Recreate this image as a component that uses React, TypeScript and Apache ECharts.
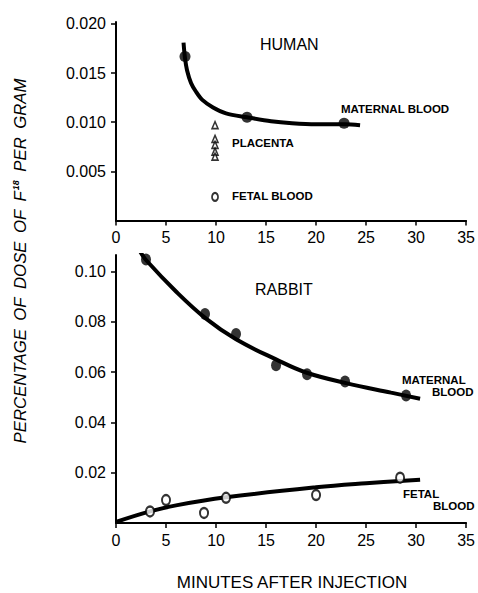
import React, { useEffect, useRef } from "react";
import * as echarts from "echarts";

// ---- Data ----
const xTicks = [0, 5, 10, 15, 20, 25, 30, 35];
const humanYTicks = [0.005, 0.01, 0.015, 0.02];
const rabbitYTicks = [0.02, 0.04, 0.06, 0.08, 0.1];

// Human
const humanMaternalPts: [number, number][] = [
  [6.9, 0.0167],
  [13.1, 0.0105],
  [22.8, 0.0099],
];
const humanMaternalCurve: [number, number][] = [
  [6.75, 0.0181],
  [6.9, 0.0165],
  [7.1, 0.0153],
  [7.5, 0.014],
  [8.0, 0.0131],
  [8.6, 0.0123],
  [9.7, 0.0115],
  [11.0, 0.0109],
  [13.1, 0.0105],
  [15.5, 0.0101],
  [17.6, 0.0099],
  [20.0, 0.0098],
  [22.9, 0.0098],
  [24.4, 0.0097],
];
const humanPlacentaPts: [number, number][] = [
  [9.9, 0.0097],
  [9.9, 0.0083],
  [9.9, 0.0077],
  [9.9, 0.007],
  [9.9, 0.0065],
];
const humanFetalPts: [number, number][] = [[9.9, 0.0024]];

// Rabbit
const rabbitMaternalPts: [number, number][] = [
  [3.0, 0.1047],
  [8.9, 0.0831],
  [12.0, 0.0751],
  [16.0, 0.0627],
  [19.1, 0.0591],
  [22.9, 0.0562],
  [29.0, 0.0507],
];
const rabbitMaternalCurve: [number, number][] = [
  [2.4, 0.108],
  [3.0, 0.1045],
  [6.0, 0.092],
  [9.0, 0.0812],
  [12.0, 0.073],
  [16.0, 0.065],
  [19.0, 0.0598],
  [23.0, 0.0556],
  [27.5, 0.0518],
  [30.4, 0.0494],
];
const rabbitFetalPts: [number, number][] = [
  [3.4, 0.0046],
  [5.0, 0.0091],
  [8.8, 0.004],
  [11.0, 0.01],
  [20.0, 0.0111],
  [28.4, 0.018],
];
const rabbitFetalCurve: [number, number][] = [
  [0, 0.0004],
  [3.4, 0.0046],
  [6.0, 0.007],
  [11.0, 0.0102],
  [20.0, 0.0142],
  [25.0, 0.0158],
  [30.4, 0.0172],
];

const FONT = "'Liberation Sans', Arial, sans-serif";
const ELLIPSE = "path://M0,-1A0.8,1 0 1,1 0,1A0.8,1 0 1,1 0,-1Z";
const SP = "\u2002";

export default function App() {
  const ref = useRef<HTMLDivElement>(null);

  useEffect(() => {
    if (!ref.current) return;
    const chart = echarts.init(ref.current, null, { renderer: "svg" });

    const axisLine = { show: true, lineStyle: { color: "#000", width: 2 } };
    const xAxisBase = {
      type: "value" as const,
      min: 0,
      max: 35,
      interval: 5,
      axisLine,
      axisTick: { show: true, length: 5, lineStyle: { color: "#000", width: 1.5 }, customValues: xTicks },
      axisLabel: { color: "#000", fontSize: 16, fontFamily: FONT, margin: 9, customValues: xTicks },
      splitLine: { show: false },
    };

    const option: any = {
      animation: false,
      backgroundColor: "#fff",
      grid: [
        { left: 116, right: 9, top: 22, bottom: 372.5 },
        { left: 116, right: 9, top: 255, bottom: 70 },
      ],
      xAxis: [
        { ...xAxisBase, gridIndex: 0 },
        { ...xAxisBase, gridIndex: 1 },
      ],
      yAxis: [
        {
          type: "value",
          gridIndex: 0,
          min: 0,
          max: 0.0202,
          axisLine,
          axisTick: { show: true, length: 5, lineStyle: { color: "#000", width: 1.5 }, customValues: humanYTicks },
          axisLabel: {
            color: "#000",
            fontSize: 16,
            fontFamily: FONT,
            margin: 10,
            customValues: humanYTicks,
            formatter: (v: number) => v.toFixed(3),
          },
          splitLine: { show: false },
        },
        {
          type: "value",
          gridIndex: 1,
          min: 0,
          max: 0.1065,
          axisLine,
          axisTick: { show: true, length: 5, lineStyle: { color: "#000", width: 1.5 }, customValues: rabbitYTicks },
          axisLabel: {
            color: "#000",
            fontSize: 16,
            fontFamily: FONT,
            margin: 10,
            customValues: rabbitYTicks,
            formatter: (v: number) => v.toFixed(2),
          },
          splitLine: { show: false },
        },
      ],
      series: [
        {
          type: "line",
          xAxisIndex: 0,
          yAxisIndex: 0,
          data: humanMaternalCurve,
          smooth: 0.3,
          symbol: "none",
          lineStyle: { color: "#000", width: 4 },
        },
        {
          type: "scatter",
          xAxisIndex: 0,
          yAxisIndex: 0,
          data: humanMaternalPts,
          symbol: "circle",
          symbolSize: 11,
          itemStyle: { color: "#000" },
        },
        {
          type: "scatter",
          xAxisIndex: 0,
          yAxisIndex: 0,
          data: humanPlacentaPts,
          symbol: "triangle",
          symbolSize: [6, 7],
          itemStyle: { color: "#fff", borderColor: "#000", borderWidth: 1.6 },
        },
        {
          type: "scatter",
          xAxisIndex: 0,
          yAxisIndex: 0,
          data: humanFetalPts,
          symbol: ELLIPSE,
          symbolSize: [6, 8],
          itemStyle: { color: "#fff", borderColor: "#000", borderWidth: 2 },
        },
        {
          type: "line",
          xAxisIndex: 1,
          yAxisIndex: 1,
          data: rabbitMaternalCurve,
          smooth: 0.4,
          symbol: "none",
          lineStyle: { color: "#000", width: 4 },
        },
        {
          type: "scatter",
          xAxisIndex: 1,
          yAxisIndex: 1,
          data: rabbitMaternalPts,
          symbol: ELLIPSE,
          symbolSize: [10, 12],
          itemStyle: { color: "#000" },
        },
        {
          type: "line",
          xAxisIndex: 1,
          yAxisIndex: 1,
          data: rabbitFetalCurve,
          smooth: 0.4,
          symbol: "none",
          lineStyle: { color: "#000", width: 4 },
        },
        {
          type: "scatter",
          xAxisIndex: 1,
          yAxisIndex: 1,
          data: rabbitFetalPts,
          symbol: ELLIPSE,
          symbolSize: [8, 10],
          itemStyle: { color: "#fff", borderColor: "#000", borderWidth: 2.2 },
          z: 5,
        },
      ],
      graphic: [
        { type: "text", x: 260, y: 44, style: { text: "HUMAN", fill: "#000", font: `16px ${FONT}`, verticalAlign: "middle" } },
        { type: "text", x: 341, y: 109, style: { text: "MATERNAL BLOOD", fill: "#000", font: `bold 11.5px ${FONT}`, verticalAlign: "middle" } },
        { type: "text", x: 232, y: 143, style: { text: "PLACENTA", fill: "#000", font: `bold 11.5px ${FONT}`, verticalAlign: "middle" } },
        { type: "text", x: 232, y: 196, style: { text: "FETAL BLOOD", fill: "#000", font: `bold 11.5px ${FONT}`, verticalAlign: "middle" } },
        { type: "text", x: 255, y: 289, style: { text: "RABBIT", fill: "#000", font: `16px ${FONT}`, verticalAlign: "middle" } },
        { type: "text", x: 402, y: 380, style: { text: "MATERNAL", fill: "#000", font: `bold 11.5px ${FONT}`, verticalAlign: "middle" } },
        { type: "text", x: 432, y: 392, style: { text: "BLOOD", fill: "#000", font: `bold 11.5px ${FONT}`, verticalAlign: "middle" } },
        { type: "text", x: 403, y: 494, style: { text: "FETAL", fill: "#000", font: `bold 11.5px ${FONT}`, verticalAlign: "middle" } },
        { type: "text", x: 433, y: 506, style: { text: "BLOOD", fill: "#000", font: `bold 11.5px ${FONT}`, verticalAlign: "middle" } },
        {
          type: "text",
          x: 292,
          y: 582,
          style: { text: "MINUTES AFTER INJECTION", fill: "#000", font: `17px ${FONT}`, align: "center", verticalAlign: "middle" },
        },
        {
          type: "text",
          x: 20,
          y: 261,
          rotation: Math.PI / 2,
          style: {
            text: `{a|PERCENTAGE${SP}OF${SP}DOSE${SP}OF${SP}F}{s|18}{a|${SP}PER${SP}GRAM}`,
            align: "center",
            verticalAlign: "middle",
            rich: {
              a: { fontSize: 16.8, fontStyle: "italic", fontFamily: FONT, fill: "#000", color: "#000" },
              s: { fontSize: 9, fontStyle: "italic", fontWeight: "bold", fontFamily: FONT, fill: "#000", color: "#000", verticalAlign: "top", padding: [0, 0, 8, 1] },
            },
          },
        },
      ],
    };

    chart.setOption(option);
    return () => chart.dispose();
  }, []);

  return <div ref={ref} style={{ width: 478, height: 593, position: "absolute", left: 0, top: 0 }} />;
}
